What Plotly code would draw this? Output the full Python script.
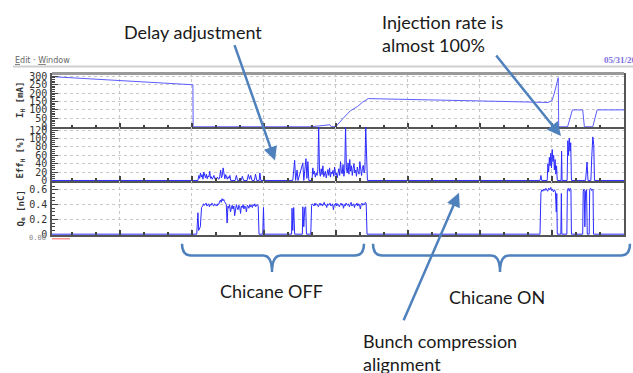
import plotly.graph_objects as go

W, H = 633, 373

# ---------------- data (time in hours) ----------------
# Panel 1: stored current I_H [mA]
ih_t = [0.17, 6.04, 6.05, 10.9, 11.3, 11.7, 11.75, 11.8, 12.0, 12.3, 12.6, 12.9, 13.1, 13.35,
        15.0, 17.0, 19.0, 20.83, 21.0, 21.1, 21.2, 21.26, 21.28, 21.65, 21.85, 22.28, 22.35,
        22.7, 22.88, 24.0]
ih_v = [297, 249, 0, 0, 5, 10, 12, 0, 2, 50, 95, 120, 145, 167,
        163, 157, 150, 144, 155, 200, 265, 291, 0, 0, 100, 100, 0,
        0, 100, 100]

STEP = 0.035
# Panel 2: injection efficiency Eff_H [%]
eff_pre_t = [0.17, 6.2]
eff_pre_v = [0, 0]
eff_a_start = 6.25
eff_a_vals = [0, 12, 5, 18, 8, 14, 3, 20, 10, 6, 15, 4, 11, 8, 22, 5, 9, 3, 7, 12,
              4, 6, 2, 8, 5, 3, 10, 25, 6, 12, 30, 8, 4, 14, 6, 3, 9, 5, 12, 0]
eff_b_t = [7.8, 7.85, 7.9, 8.05, 8.1, 8.15, 8.3, 8.35, 8.4, 8.45, 8.5, 8.6, 8.65, 8.7, 8.8, 8.83, 8.87,
           10.2, 10.28, 10.32, 10.38, 10.42, 10.62, 10.66, 10.75, 10.79, 10.83, 10.87]
eff_b_v = [0, 12, 0, 0, 10, 0, 0, 14, 3, 12, 0, 0, 15, 0, 0, 18, 0,
           0, 48, 0, 25, 0, 42, 0, 52, 5, 45, 0]
eff_d_start = 11.0
eff_d_vals = [0, 30, 15, 22, 8, 18, 12, 25, 128, 20, 10, 28, 14, 35, 9, 18, 22, 6, 15, 26,
              12, 30, 8, 20, 16, 24, 10, 32, 14, 18, 6, 22, 28, 12, 45, 20, 16, 38, 10, 24,
              128, 30, 18, 42, 15, 50, 22, 35, 12, 28, 40, 18, 25, 10, 32, 20, 15, 45, 22, 12,
              28, 36, 18, 25, 128, 20, 0]
eff_e_t = [20.5, 20.54, 20.57, 20.8, 20.83, 20.86, 20.89, 20.92, 20.95, 20.98, 21.01, 21.04,
           21.07, 21.1, 21.13, 21.16, 21.19, 21.22,
           21.38, 21.4, 21.42,
           21.63, 21.66, 21.69, 21.72, 21.75, 21.78, 21.81,
           22.4, 22.43, 22.46, 22.5, 22.62, 22.66, 22.7, 22.74, 22.77, 24.0]
eff_e_v = [0, 12, 0, 0, 40, 20, 55, 35, 65, 30, 74, 45,
           60, 25, 50, 15, 35, 0,
           0, 70, 0,
           0, 95, 60, 101, 70, 90, 0,
           0, 20, 44, 0, 0, 60, 104, 85, 0, 0]

# Panel 3: bunch charge Q_e [nC]
q_pre_t = [0.17, 6.2, 6.25, 6.28, 6.35, 6.4]
q_pre_v = [0, 0, 0.29, 0.05, 0.10, 0.36]
q_f_start = 6.45
q_f_vals = [0.38, 0.41, 0.39, 0.40, 0.42, 0.38, 0.40, 0.41, 0.37, 0.40, 0.39, 0.42, 0.40, 0.38,
            0.41, 0.39, 0.40, 0.38, 0.41, 0.40, 0.44, 0.46, 0.43, 0.48, 0.45, 0.47, 0.44, 0.42,
            0.40, 0.15, 0.38, 0.35, 0.40, 0.30, 0.37, 0.39, 0.34, 0.38, 0.25, 0.37, 0.40, 0.36,
            0.33, 0.39, 0.37, 0.28, 0.38, 0.36, 0.40, 0.34, 0.38, 0.37, 0.30, 0.39, 0.38, 0.35,
            0.40, 0.37, 0.39, 0.36, 0.40, 0.38, 0.41, 0.37, 0.39, 0.40, 0.38, 0.0]
q_g_t = [8.95, 8.98, 9.01, 10.15, 10.17, 10.2, 10.24, 10.28, 10.6, 10.62, 10.66, 10.7, 10.74, 10.77]
q_g_v = [0, 0.36, 0, 0, 0.35, 0.05, 0.36, 0, 0, 0.37, 0.10, 0.36, 0.37, 0]
q_h_start = 10.95
q_h_vals = [0.0, 0.39, 0.41, 0.40, 0.38, 0.42, 0.39, 0.41, 0.40, 0.37, 0.40, 0.42, 0.39, 0.41,
            0.38, 0.40, 0.43, 0.39, 0.40, 0.36, 0.41, 0.39, 0.40, 0.42, 0.38, 0.40, 0.41, 0.33,
            0.40, 0.39, 0.42, 0.38, 0.41, 0.40, 0.37, 0.40, 0.42, 0.39, 0.41, 0.35, 0.40, 0.38,
            0.42, 0.40, 0.39, 0.41, 0.37, 0.40, 0.43, 0.38, 0.40, 0.41, 0.36, 0.40, 0.39, 0.42,
            0.38, 0.41, 0.40, 0.34, 0.40, 0.42, 0.39, 0.41, 0.40, 0.43, 0.41, 0.0]
q_i_t = [20.5, 20.54, 20.58, 20.62, 20.66, 20.7, 20.74, 20.78, 20.82, 20.86, 20.9, 20.94, 20.98,
         21.02, 21.06, 21.1, 21.14, 21.18, 21.2, 21.22,
         21.37, 21.39, 21.41,
         21.62, 21.64, 21.68, 21.72, 21.76, 21.79, 21.81,
         22.28, 22.3, 22.34, 22.37, 22.4, 22.44, 22.47, 22.55, 22.57, 22.61, 22.65, 22.68,
         22.71, 22.73, 24.0]
q_i_v = [0, 0.56, 0.60, 0.58, 0.61, 0.59, 0.62, 0.60, 0.58, 0.62, 0.60, 0.63, 0.59,
         0.61, 0.57, 0.60, 0.58, 0.30, 0.55, 0,
         0, 0.55, 0,
         0, 0.60, 0.62, 0.58, 0.62, 0.60, 0,
         0, 0.58, 0.61, 0.10, 0.58, 0.60, 0, 0, 0.60, 0.62, 0.59, 0.61,
         0.60, 0, 0]

panel_titles = ["I<sub>H</sub> [mA]", "Eff<sub>H</sub> [%]", "Q<sub>e</sub> [nC]"]
ih_ticks = [0, 50, 100, 150, 200, 250, 300]
eff_ticks = [0, 20, 40, 60, 80, 100, 120]
q_ticks = [0, 0.2, 0.4, 0.6]
q_ticktext = ["0", "0.2", "0.4", "0.6"]


def regular(start, vals):
    return [start + i * STEP for i in range(len(vals))], list(vals)


ea_t, ea_v = regular(eff_a_start, eff_a_vals)
ed_t, ed_v = regular(eff_d_start, eff_d_vals)
eff_t = eff_pre_t + ea_t + eff_b_t + ed_t + eff_e_t
eff_v = eff_pre_v + ea_v + eff_b_v + ed_v + eff_e_v

qf_t, qf_v = regular(q_f_start, q_f_vals)
qh_t, qh_v = regular(q_h_start, q_h_vals)
q_t = q_pre_t + qf_t + q_g_t + qh_t + q_i_t
q_v = q_pre_v + qf_v + q_g_v + qh_v + q_i_v


# ---------------- layout helpers ----------------
def px(x):
    return x / W


def py(y):
    return 1 - y / H


X0, X1 = 52, 624
panels = [(72, 127), (127, 182), (182, 237)]

fig = go.Figure()
fig.add_trace(go.Scatter(x=ih_t, y=ih_v, mode="lines", line=dict(color="#5c5cff", width=1),
                         xaxis="x", yaxis="y", showlegend=False, hoverinfo="skip"))
fig.add_trace(go.Scatter(x=eff_t, y=eff_v, mode="lines", line=dict(color="#2b2bff", width=1),
                         xaxis="x2", yaxis="y2", showlegend=False, hoverinfo="skip"))
fig.add_trace(go.Scatter(x=q_t, y=q_v, mode="lines", line=dict(color="#2b2bff", width=1),
                         xaxis="x3", yaxis="y3", showlegend=False, hoverinfo="skip"))

tickfont = dict(family="DejaVu Sans Mono", size=10, color="#333333")

xcommon = dict(range=[0.17, 24], tick0=0, dtick=3, showticklabels=False,
               ticks="inside", ticklen=5, tickwidth=1.5, tickcolor="#444",
               minor=dict(dtick=1, ticks="inside", ticklen=3, tickcolor="#444", showgrid=False),
               showgrid=True, gridcolor="#c8c8c8", griddash="dot", gridwidth=1,
               showline=True, linecolor="#555", linewidth=1.5, zeroline=False,
               domain=[px(X0), px(X1)])

ycommon = dict(ticks="inside", ticklen=6, tickcolor="#444", tickwidth=1.2,
               showgrid=True, gridcolor="#c8c8c8", griddash="dot", gridwidth=1,
               showline=True, linecolor="#555", linewidth=1.5, mirror=True,
               zeroline=False, tickfont=tickfont, ticklabelstandoff=1)

layout = dict(width=W, height=H, margin=dict(l=0, r=0, t=0, b=0),
              paper_bgcolor="white", plot_bgcolor="white", showlegend=False)

layout["xaxis"] = dict(xcommon, anchor="y")
layout["xaxis2"] = dict(xcommon, anchor="y2", matches="x")
layout["xaxis3"] = dict(xcommon, anchor="y3", matches="x")

(t1, b1), (t2, b2), (t3, b3) = panels
layout["yaxis"] = dict(ycommon, domain=[py(b1), py(t1)], range=[-3, 316], tickvals=ih_ticks,
                       anchor="x", minor=dict(dtick=10, ticks="inside", ticklen=3, tickcolor="#444", showgrid=False))
layout["yaxis2"] = dict(ycommon, domain=[py(b2), py(t2)], range=[-1.5, 127], tickvals=eff_ticks,
                        anchor="x2", minor=dict(dtick=5, ticks="inside", ticklen=3, tickcolor="#444", showgrid=False))
layout["yaxis3"] = dict(ycommon, domain=[py(b3), py(t3)], range=[-0.01, 0.717], tickvals=q_ticks,
                        ticktext=q_ticktext, anchor="x3",
                        minor=dict(dtick=0.05, ticks="inside", ticklen=3, tickcolor="#444", showgrid=False))
fig.update_layout(**layout)

shapes = []
# toolbar separator and thick top border of the first panel
shapes.append(dict(type="line", xref="paper", yref="paper", x0=px(13), x1=px(633), y0=py(65), y1=py(65),
                   line=dict(color="#cfcfcf", width=2)))
shapes.append(dict(type="line", xref="paper", yref="paper", x0=px(X0), x1=px(X1), y0=py(72), y1=py(72),
                   line=dict(color="#9a9a9a", width=3)))
# small red marker at the bottom left
shapes.append(dict(type="line", xref="paper", yref="paper", x0=px(52), x1=px(70), y0=py(241), y1=py(241),
                   line=dict(color="#ff6060", width=1)))


def brace(xl, xr, xm, ytop, yh, ytip):
    pts = [
        ("M", xl, ytop), ("Q", xl, yh, xl + 9, yh), ("L", xm - 9, yh),
        ("Q", xm, yh, xm, ytip), ("Q", xm, yh, xm + 9, yh), ("L", xr - 9, yh),
        ("Q", xr, yh, xr, ytop),
    ]
    d = ""
    for p in pts:
        cmd = p[0]
        coords = p[1:]
        s = " ".join(f"{px(coords[i]):.5f},{py(coords[i + 1]):.5f}" for i in range(0, len(coords), 2))
        d += f"{cmd} {s} "
    return dict(type="path", xref="paper", yref="paper", path=d.strip(),
                line=dict(color="#4f81bd", width=2.5))


shapes.append(brace(182, 364, 272, 246, 258, 275))
shapes.append(brace(373, 630, 500, 246, 258, 275))
fig.update_layout(shapes=shapes)

ann = []
label_font = dict(family="Lato", size=18, color="#1a1a1a")
ann.append(dict(text="Delay adjustment", x=px(193), y=py(30), xref="paper", yref="paper",
                showarrow=False, font=label_font, xanchor="center", yanchor="middle"))
ann.append(dict(text="Injection rate is<br>almost 100%", x=px(380), y=py(31), xref="paper", yref="paper",
                showarrow=False, font=label_font, xanchor="left", yanchor="middle", align="left"))
ann.append(dict(text="Chicane OFF", x=px(271), y=py(294), xref="paper", yref="paper",
                showarrow=False, font=label_font, xanchor="center", yanchor="middle"))
ann.append(dict(text="Chicane ON", x=px(497), y=py(300), xref="paper", yref="paper",
                showarrow=False, font=label_font, xanchor="center", yanchor="middle"))
ann.append(dict(text="Bunch compression<br>alignment", x=px(361), y=py(357), xref="paper", yref="paper",
                showarrow=False, font=label_font, xanchor="left", yanchor="middle", align="left"))

arrow_style = dict(showarrow=True, arrowhead=2, arrowsize=1.1, arrowwidth=2.5, arrowcolor="#4f81bd",
                   xref="paper", yref="paper", text="")
ann.append(dict(arrow_style, x=px(275), y=py(161), ax=-41, ay=-117))
ann.append(dict(arrow_style, x=px(561), y=py(136), ax=-66, ay=-82))
ann.append(dict(arrow_style, x=px(459), y=py(194), ax=-56, ay=129))

ann.append(dict(text="<u>E</u>dit · <u>W</u>indow", x=px(13), y=py(59), xref="paper", yref="paper",
                showarrow=False, xanchor="left", yanchor="middle",
                font=dict(family="DejaVu Sans", size=8, color="#666")))
ann.append(dict(text="<b>05/31/20</b>", x=px(602), y=py(58), xref="paper", yref="paper",
                showarrow=False, xanchor="left", yanchor="middle",
                font=dict(family="Liberation Serif", size=9, color="#7b6fe0")))
ann.append(dict(text="0.00", x=px(48), y=py(240), xref="paper", yref="paper",
                showarrow=False, xanchor="right", yanchor="middle",
                font=dict(family="DejaVu Sans Mono", size=7, color="#888")))

title_y = [99, 158, 210]
for ttl, yy in zip(panel_titles, title_y):
    ann.append(dict(text=f"<b>{ttl}</b>", x=px(21), y=py(yy), xref="paper", yref="paper",
                    showarrow=False, textangle=-90, xanchor="center", yanchor="middle",
                    font=dict(family="DejaVu Sans Mono", size=9, color="#333")))
fig.update_layout(annotations=ann)

fig.write_html("out.html")
